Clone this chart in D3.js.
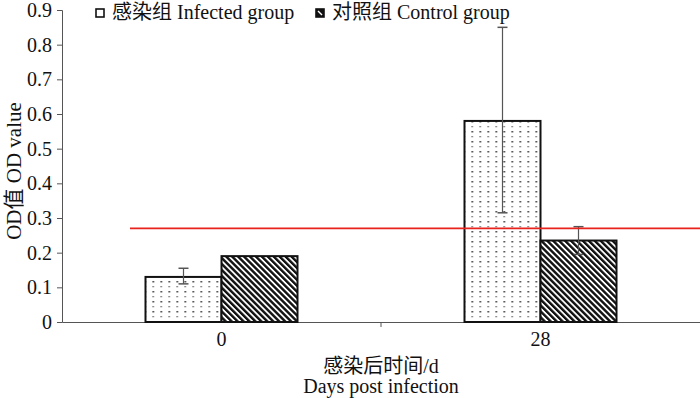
<!DOCTYPE html>
<html>
<head>
<meta charset="utf-8">
<script src="https://cdn.jsdelivr.net/npm/d3@7"></script>
<style>
  body { margin: 0; background: #fff; }
  text { font-family: "Liberation Serif", "Noto Sans CJK SC", serif; fill: #111; }
</style>
</head>
<body>
<div id="chart"></div>
<script>
const categories = ['0', '28'];
const seriesNames = ['感染组 Infected group', '对照组 Control group'];
const infectedValues = [0.13, 0.58];
const infectedErrUp = [0.155, 0.85];
const infectedErrDown = [0.11, 0.315];
const controlValues = [0.19, 0.235];
const controlErrUp = [0.19, 0.275];
const controlErrDown = [0.19, 0.195];
const thresholdValue = 0.27;
const yTicks = [0, 0.1, 0.2, 0.3, 0.4, 0.5, 0.6, 0.7, 0.8, 0.9];

const width = 700;
const height = 398;
const margin = { top: 10, right: 0, bottom: 76, left: 62 };
const innerW = width - margin.left - margin.right;
const innerH = height - margin.top - margin.bottom;
const fontSize = '20px';

const svg = d3.select('#chart').append('svg')
	.attr('width', width)
	.attr('height', height);

// fill patterns
const defs = svg.append('defs');
const dots = defs.append('pattern')
	.attr('id', 'dots')
	.attr('patternUnits', 'userSpaceOnUse')
	.attr('width', 8).attr('height', 10);
dots.append('rect').attr('width', 8).attr('height', 10).attr('fill', '#fff');
dots.append('rect').attr('x', 3).attr('y', 1).attr('width', 1.5).attr('height', 1.5).attr('fill', '#222');
dots.append('rect').attr('x', 3).attr('y', 6).attr('width', 1.3).attr('height', 1.3).attr('fill', '#555');

const hatch = defs.append('pattern')
	.attr('id', 'hatch')
	.attr('patternUnits', 'userSpaceOnUse')
	.attr('width', 4.2).attr('height', 4.2)
	.attr('patternTransform', 'rotate(-45)');
hatch.append('rect').attr('width', 4.2).attr('height', 4.2).attr('fill', '#fff');
hatch.append('rect').attr('x', 0).attr('y', 0).attr('width', 2.4).attr('height', 4.2).attr('fill', '#111');

const g = svg.append('g').attr('transform', `translate(${margin.left},${margin.top})`);

const x0 = d3.scaleBand().domain(categories).range([0, innerW]).padding(0);
const barW = 76;
const x1 = d3.scaleBand().domain(['infected', 'control']).range([-barW, barW]).padding(0);
const y = d3.scaleLinear().domain([0, 0.9]).range([innerH, 0]);

// y axis
const yAxis = g.append('g')
	.call(d3.axisLeft(y).tickValues(yTicks).tickSize(5).tickPadding(5).tickFormat(d => d === 0 ? '0' : d3.format('.1f')(d)));
yAxis.selectAll('text').style('font-size', fontSize);
yAxis.selectAll('line, path').attr('stroke', '#555');

// x axis
const xAxis = g.append('g')
	.attr('transform', `translate(0,${innerH})`)
	.call(d3.axisBottom(x0).tickSize(0).tickPadding(10));
xAxis.select('.domain').attr('stroke', '#555');
xAxis.selectAll('text').style('font-size', fontSize);
// boundary tick between categories
g.append('line')
	.attr('x1', x0('28')).attr('x2', x0('28'))
	.attr('y1', innerH).attr('y2', innerH + 5)
	.attr('stroke', '#555');

const data = categories.map((c, i) => ({
	cat: c,
	bars: [
		{ key: 'infected', value: infectedValues[i], up: infectedErrUp[i], down: infectedErrDown[i], fill: 'url(#dots)' },
		{ key: 'control', value: controlValues[i], up: controlErrUp[i], down: controlErrDown[i], fill: 'url(#hatch)' }
	]
}));

const groups = g.selectAll('.grp')
	.data(data)
	.enter().append('g')
	.attr('class', 'grp')
	.attr('transform', d => `translate(${x0(d.cat) + x0.bandwidth() / 2},0)`);

groups.selectAll('rect')
	.data(d => d.bars)
	.enter().append('rect')
	.attr('x', d => x1(d.key))
	.attr('y', d => y(d.value))
	.attr('width', x1.bandwidth())
	.attr('height', d => innerH - y(d.value))
	.attr('fill', d => d.fill)
	.attr('stroke', '#111')
	.attr('stroke-width', 2);

// error bars
const err = groups.selectAll('.err')
	.data(d => d.bars.filter(b => b.up > b.value || b.down < b.value))
	.enter().append('g')
	.attr('class', 'err')
	.attr('transform', d => `translate(${x1(d.key) + x1.bandwidth() / 2},0)`);
err.append('line')
	.attr('y1', d => y(d.up)).attr('y2', d => y(d.down))
	.attr('stroke', '#555').attr('stroke-width', 1.2);
err.append('line')
	.attr('x1', -5).attr('x2', 5)
	.attr('y1', d => y(d.up)).attr('y2', d => y(d.up))
	.attr('stroke', '#555').attr('stroke-width', 1.5);
err.append('line')
	.attr('x1', -5).attr('x2', 5)
	.attr('y1', d => y(d.down)).attr('y2', d => y(d.down))
	.attr('stroke', '#555').attr('stroke-width', 1.5);

// threshold line
g.append('line')
	.attr('x1', 68).attr('x2', innerW)
	.attr('y1', y(thresholdValue)).attr('y2', y(thresholdValue))
	.attr('stroke', '#e8221c').attr('stroke-width', 1.6);

// axis titles
svg.append('text')
	.attr('transform', `translate(21,171) rotate(-90)`)
	.attr('text-anchor', 'middle')
	.style('font-size', '21px')
	.text('OD值 OD value');

svg.append('text')
	.attr('x', 381).attr('y', 373)
	.attr('text-anchor', 'middle')
	.style('font-size', fontSize)
	.text('感染后时间/d');
svg.append('text')
	.attr('x', 381).attr('y', 393)
	.attr('text-anchor', 'middle')
	.style('font-size', fontSize)
	.text('Days post infection');

// legend
const legend = svg.append('g');
const legendX = [96, 316];
seriesNames.forEach((name, i) => {
	const lg = legend.append('g').attr('transform', `translate(${legendX[i]},4)`);
	lg.append('rect')
		.attr('x', 0).attr('y', 5).attr('width', 8).attr('height', 8)
		.attr('fill', i === 0 ? '#fff' : '#111')
		.attr('stroke', '#111').attr('stroke-width', 1.6);
	if (i === 1) {
		lg.append('line').attr('x1', 2).attr('y1', 7).attr('x2', 6).attr('y2', 11)
			.attr('stroke', '#fff').attr('stroke-width', 1.4);
	}
	lg.append('text')
		.attr('x', 16).attr('y', 15)
		.style('font-size', fontSize)
		.text(name);
});
</script>
</body>
</html>
